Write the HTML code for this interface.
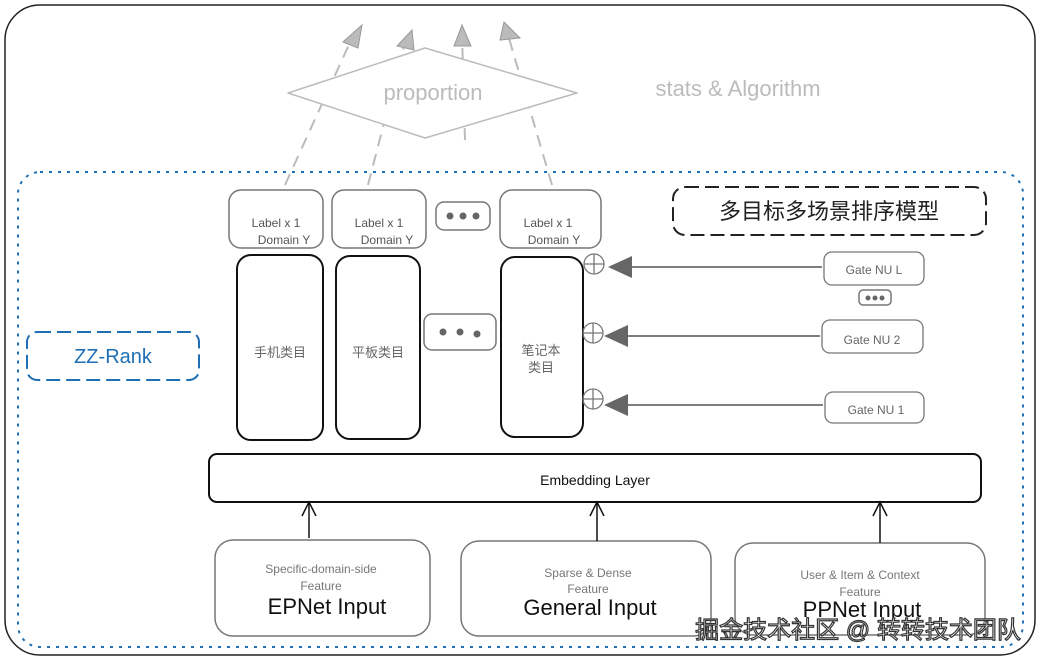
<!DOCTYPE html>
<html><head><meta charset="utf-8"><style>
body{margin:0;width:1040px;height:661px;background:#fff;overflow:hidden;font-family:"Liberation Sans","Noto Sans CJK SC",sans-serif}
svg text{font-family:"Liberation Sans","Noto Sans CJK SC",sans-serif}
</style></head><body>
<svg width="1040" height="661" xmlns="http://www.w3.org/2000/svg">
<rect x="5" y="5" width="1030" height="650" rx="35" fill="none" stroke="#222" stroke-width="1.5"/>
<rect x="18" y="172" width="1005" height="475" rx="22" fill="none" stroke="#1f6fb5" stroke-width="2" stroke-dasharray="3,6"/>
<g stroke="#bbb" stroke-width="2" stroke-dasharray="12,8" fill="none">
<line x1="285" y1="185" x2="352" y2="38"/><line x1="368" y1="185" x2="406" y2="38"/>
<line x1="552" y1="185" x2="508" y2="35"/><line x1="465" y1="140" x2="462" y2="35"/>
</g>
<path d="M288,93 L425,48 L577,93 L425,138 Z" fill="#fff" stroke="#bbb" stroke-width="1.5" stroke-linejoin="round"/>
<text x="433" y="100" font-size="22" fill="#bbb" text-anchor="middle">proportion</text>
<text x="738" y="96" font-size="22" fill="#bbb" text-anchor="middle">stats &amp; Algorithm</text>
<g fill="#bbb" stroke="#999"><path d="M343,42 L362,25 L358,48 Z"/><path d="M397,46 L412,30 L414,50 Z"/><path d="M454,46 L462,25 L471,46 Z"/><path d="M500,40 L504,22 L520,38 Z"/></g>
<g fill="none" stroke="#777" stroke-width="1.5">
<rect x="229" y="190" width="94" height="58" rx="12"/><rect x="332" y="190" width="94" height="58" rx="12"/>
<rect x="500" y="190" width="101" height="58" rx="12"/><rect x="436" y="202" width="54" height="28" rx="8"/>
<rect x="424" y="314" width="72" height="36" rx="8"/><rect x="859" y="290" width="32" height="15" rx="4"/>
</g>
<g font-size="12" fill="#555" text-anchor="middle">
<text x="276" y="227">Label x 1</text><text x="284" y="244">Domain Y</text>
<text x="379" y="227">Label x 1</text><text x="387" y="244">Domain Y</text>
<text x="548" y="227">Label x 1</text><text x="554" y="244">Domain Y</text>
</g>
<g fill="#666"><circle cx="450" cy="216" r="3.5"/><circle cx="463" cy="216" r="3.5"/><circle cx="476" cy="216" r="3.5"/>
<circle cx="443" cy="332" r="3.5"/><circle cx="460" cy="332" r="3.5"/><circle cx="477" cy="334" r="3.5"/>
<circle cx="868" cy="298" r="2.5"/><circle cx="875" cy="298" r="2.5"/><circle cx="882" cy="298" r="2.5"/></g>
<g fill="none" stroke="#111" stroke-width="2">
<rect x="237" y="255" width="86" height="185" rx="14"/><rect x="336" y="256" width="84" height="183" rx="14"/>
<rect x="501" y="257" width="82" height="180" rx="14"/>
<rect x="209" y="454" width="772" height="48" rx="8"/>
</g>
<g font-size="13" fill="#666" text-anchor="middle">
<text x="280" y="357">手机类目</text><text x="378" y="357">平板类目</text>
<text x="541" y="355">笔记本</text><text x="541" y="372">类目</text></g>
<g fill="none" stroke="#777" stroke-width="1.3">
<circle cx="594" cy="264" r="10"/><circle cx="593" cy="333" r="10"/><circle cx="593" cy="399" r="10"/>
<path d="M584,264 h20 M594,254 v20 M583,333 h20 M593,323 v20 M583,399 h20 M593,389 v20"/>
<rect x="824" y="252" width="100" height="33" rx="8"/><rect x="822" y="320" width="101" height="33" rx="8"/><rect x="825" y="392" width="99" height="31" rx="8"/>
</g>
<g stroke="#555" stroke-width="1.5"><line x1="630" y1="267" x2="822" y2="267"/><line x1="625" y1="336" x2="820" y2="336"/><line x1="625" y1="405" x2="823" y2="405"/></g>
<g fill="#666"><path d="M608,267 L632,256 L632,278 Z"/><path d="M604,336 L628,325 L628,347 Z"/><path d="M604,405 L628,394 L628,416 Z"/></g>
<g font-size="12" fill="#666" text-anchor="middle"><text x="874" y="274">Gate NU L</text><text x="872" y="344">Gate NU 2</text><text x="876" y="414">Gate NU 1</text></g>
<rect x="673" y="187" width="313" height="48" rx="12" fill="none" stroke="#222" stroke-width="2" stroke-dasharray="14,6"/>
<text x="829" y="219" font-size="22" fill="#222" text-anchor="middle">多目标多场景排序模型</text>
<rect x="27" y="332" width="172" height="48" rx="10" fill="none" stroke="#1f6fb5" stroke-width="2" stroke-dasharray="14,6"/>
<text x="113" y="363" font-size="20" fill="#1f6fb5" text-anchor="middle">ZZ-Rank</text>
<text x="595" y="485" font-size="14" fill="#111" text-anchor="middle">Embedding Layer</text>
<g fill="none" stroke="#777" stroke-width="1.5">
<rect x="215" y="540" width="215" height="96" rx="18"/><rect x="461" y="541" width="250" height="95" rx="18"/><rect x="735" y="543" width="250" height="92" rx="18"/>
</g>
<g stroke="#111" stroke-width="1.5" fill="none"><line x1="309" y1="538" x2="309" y2="503"/><line x1="597" y1="541" x2="597" y2="503"/><line x1="880" y1="543" x2="880" y2="503"/>
<path d="M302,516 L309,502 L316,516 M590,516 L597,502 L604,516 M873,516 L880,502 L887,516"/></g>
<g font-size="12" fill="#777" text-anchor="middle">
<text x="321" y="573">Specific-domain-side</text><text x="321" y="590">Feature</text>
<text x="588" y="577">Sparse &amp; Dense</text><text x="588" y="593">Feature</text>
<text x="860" y="579">User &amp; Item &amp; Context</text><text x="860" y="596">Feature</text></g>
<g font-size="22" fill="#111" text-anchor="middle">
<text x="327" y="614">EPNet Input</text><text x="590" y="615">General Input</text><text x="862" y="617">PPNet Input</text></g>
<text x="858" y="638" font-size="24" fill="#fff" stroke="#333" stroke-width="1.2" text-anchor="middle">掘金技术社区 @ 转转技术团队</text>
</svg>
</body></html>
